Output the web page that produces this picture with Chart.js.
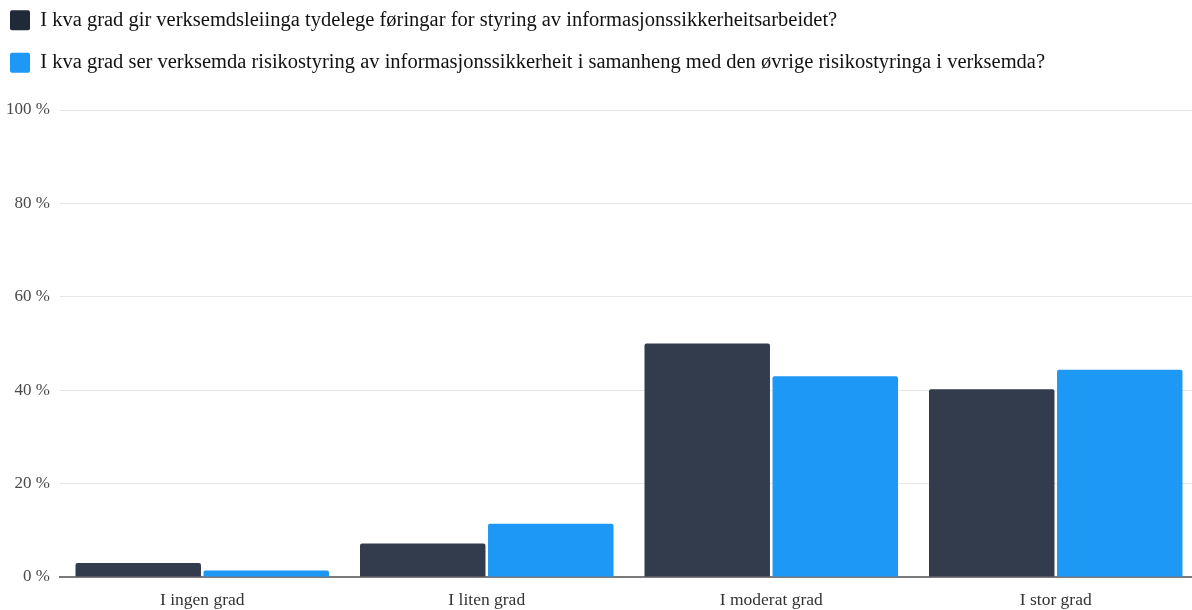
<!DOCTYPE html>
<html>
<head>
<meta charset="utf-8">
<script src="https://cdn.jsdelivr.net/npm/chart.js@4"></script>
<style>
html,body{margin:0;padding:0;background:#fff;overflow:hidden;}
#wrap{width:1192px;height:610px;position:relative;overflow:hidden;}
</style>
</head>
<body>
<div id="wrap"><canvas id="c" width="1198" height="610"></canvas></div>
<script>
const categories = ["I ingen grad", "I liten grad", "I moderat grad", "I stor grad"];
const seriesNames = [
  "I kva grad gir verksemdsleiinga tydelege føringar for styring av informasjonssikkerheitsarbeidet?",
  "I kva grad ser verksemda risikostyring av informasjonssikkerheit i samanheng med den øvrige risikostyringa i verksemda?"
];
const seriesA = [3.0, 7.2, 50.0, 40.2];
const seriesB = [1.4, 11.4, 43.0, 44.4];
const yTicks = [0, 20, 40, 60, 80, 100];
const barColors = ['#323c4c', '#1e98f5'];
const legendColors = ['#1f2937', '#1e98f5'];

const serif = "'Liberation Serif', 'Times New Roman', serif";

const legendSpacer = {
  id: 'legendSpacer',
  beforeInit(chart) {
    const origFit = chart.legend.fit;
    chart.legend.fit = function () {
      origFit.call(this);
      this.height += 27;
    };
  }
};

new Chart(document.getElementById('c'), {
  type: 'bar',
  data: {
    labels: categories,
    datasets: [
      { label: seriesNames[0], data: seriesA, backgroundColor: barColors[0], borderRadius: 2, borderSkipped: 'bottom' },
      { label: seriesNames[1], data: seriesB, backgroundColor: barColors[1], borderRadius: 2, borderSkipped: 'bottom' }
    ]
  },
  plugins: [legendSpacer],
  options: {
    responsive: false,
    animation: false,
    devicePixelRatio: 1,
    layout: { padding: { left: -12, right: 0, top: -12, bottom: 0 } },
    datasets: { bar: { categoryPercentage: 0.9, barPercentage: 0.98 } },
    plugins: {
      tooltip: { enabled: false },
      legend: {
        position: 'top',
        align: 'start',
        labels: {
          boxWidth: 20,
          boxHeight: 20,
          padding: 22,
          color: '#111',
          font: { family: serif, size: 20.5 },
          generateLabels: (chart) => chart.data.datasets.map((ds, i) => ({
            text: ds.label,
            fillStyle: legendColors[i],
            strokeStyle: legendColors[i],
            lineWidth: 0,
            hidden: false,
            datasetIndex: i,
            fontColor: '#111',
            borderRadius: 2
          })),
          useBorderRadius: true,
          borderRadius: 2
        }
      }
    },
    scales: {
      x: {
        afterFit: (ax) => { ax.height = 33; },
        grid: { display: false, drawTicks: false },
        border: { display: true, color: '#7a7a7a', width: 2 },
        ticks: { color: '#333', padding: 13, font: { family: serif, size: 17.5 } }
      },
      y: {
        min: 0, max: 100,
        afterBuildTicks: (ax) => { ax.ticks = yTicks.map(v => ({ value: v })); },
        afterFit: (ax) => { ax.width = 72; },
        grid: { color: '#e6e6e6', drawTicks: false },
        border: { display: false },
        ticks: {
          color: '#4a4a4a', padding: 10,
          font: { family: serif, size: 17 },
          callback: (v) => v + ' %'
        }
      }
    }
  }
});
</script>
</body>
</html>
